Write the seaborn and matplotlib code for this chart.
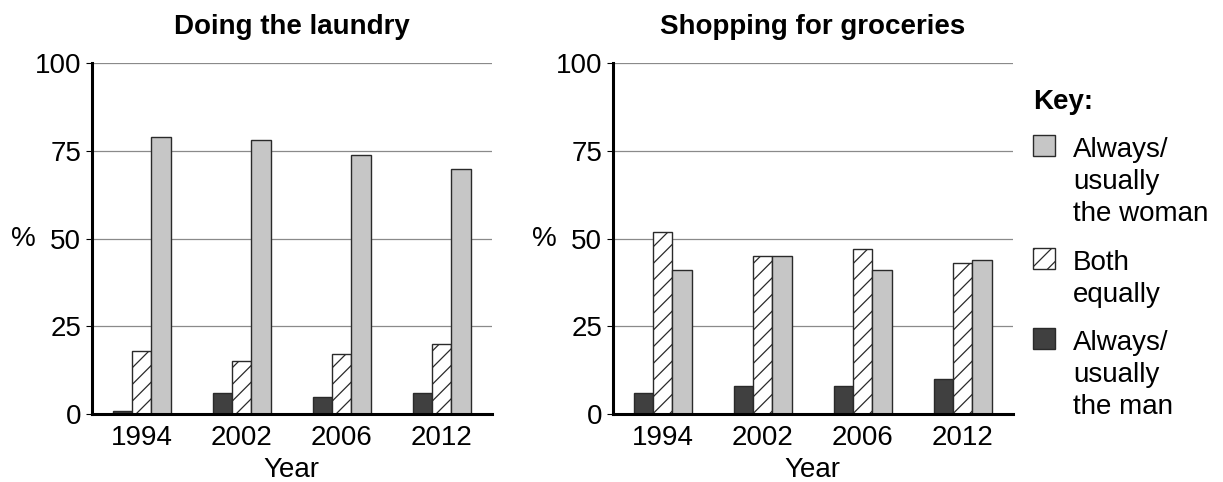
import matplotlib
matplotlib.use("Agg")
import matplotlib.pyplot as plt
import seaborn as sns
import pandas as pd
from matplotlib.patches import Rectangle

# ---- data ----
years = ["1994", "2002", "2006", "2012"]
series = ["Always/usually the man", "Both equally", "Always/usually the woman"]
laundry_man = [1, 6, 5, 6]
laundry_both = [18, 15, 17, 20]
laundry_woman = [79, 78, 74, 70]
shopping_man = [6, 8, 8, 10]
shopping_both = [52, 45, 47, 43]
shopping_woman = [41, 45, 41, 44]
titles = ["Doing the laundry", "Shopping for groceries"]
yticks = [0, 25, 50, 75, 100]
legend_title = "Key:"
legend_labels = ["Always/\nusually\nthe woman", "Both\nequally", "Always/\nusually\nthe man"]

sns.set_style("white")
plt.rcParams['font.family'] = ['Liberation Sans', 'DejaVu Sans']
plt.rcParams['text.color'] = 'black'
plt.rcParams['axes.labelcolor'] = 'black'
plt.rcParams['hatch.linewidth'] = 0.9
plt.rcParams['hatch.color'] = '#2a2a2a'

colors = {series[0]: "#404040", series[1]: "#ffffff", series[2]: "#c6c6c6"}
edge = "#2a2a2a"
FS = 20


def make_df(man, both, woman):
    rows = []
    for y, m, b, w in zip(years, man, both, woman):
        rows += [(y, series[0], m), (y, series[1], b), (y, series[2], w)]
    return pd.DataFrame(rows, columns=["Year", "Who", "Pct"])


fig = plt.figure(figsize=(12.23, 4.82), dpi=100)
ax1 = fig.add_axes([0.075, 0.141, 0.3271, 0.7276])
ax2 = fig.add_axes([0.501, 0.141, 0.3271, 0.7276])

datasets = [make_df(laundry_man, laundry_both, laundry_woman),
            make_df(shopping_man, shopping_both, shopping_woman)]

for ax, df, title in zip([ax1, ax2], datasets, titles):
    sns.barplot(data=df, x="Year", y="Pct", hue="Who", hue_order=series,
                order=years, palette=colors, width=0.58, saturation=1,
                edgecolor=edge, linewidth=1.0, legend=False, ax=ax, zorder=3)
    for bar in ax.containers[1]:
        bar.set_hatch('//')
    ax.set_xlim(-0.5, len(years) - 0.5)
    ax.set_ylim(0, 100)
    ax.set_yticks(yticks)
    ax.set_axisbelow(True)
    ax.yaxis.grid(True, color="#8a8a8a", linewidth=0.9)
    ax.xaxis.grid(False)
    for s in ["top", "right"]:
        ax.spines[s].set_visible(False)
    for s in ["left", "bottom"]:
        ax.spines[s].set_linewidth(2.2)
        ax.spines[s].set_color("black")
        ax.spines[s].set_zorder(5)
    ax.set_xticks(range(len(years)))
    ax.set_xticklabels(years)
    ax.set_xticks([i - 0.5 for i in range(len(years) + 1)], minor=True)
    ax.tick_params(axis='x', which='major', length=0, pad=8, labelsize=FS, colors='black')
    ax.tick_params(axis='x', which='minor', length=5, width=0.8, direction='out', color='#333333')
    ax.tick_params(axis='y', which='major', length=4.5, width=0.8, pad=3, labelsize=FS,
                   direction='out', left=True, colors='black')
    ax.set_xlabel("Year", fontsize=FS, labelpad=4)
    ax.set_ylabel("%", fontsize=FS, rotation=0, ha='center', va='center')
    ax.yaxis.set_label_coords(-0.172, 0.5)
    ax.set_title(title, fontsize=FS, fontweight='bold', pad=21)

# ---- key ----
W, H = 1223.0, 482.0
fig.text(1033 / W, 1 - 109 / H, legend_title, fontsize=FS, fontweight='bold', va='baseline', ha='left')
patch_styles = [(colors[series[2]], None), (colors[series[1]], '//'), (colors[series[0]], None)]
patch_tops = [135, 248, 328]
for (fc, hatch), top, lab in zip(patch_styles, patch_tops, legend_labels):
    r = Rectangle((1033 / W, 1 - (top + 21) / H), 22 / W, 21 / H, transform=fig.transFigure,
                  facecolor=fc, edgecolor=edge, linewidth=1.0, hatch=hatch)
    fig.patches.append(r)
    for i, line in enumerate(lab.split("\n")):
        fig.text(1073 / W, 1 - (top + 22 + 32 * i) / H, line, fontsize=FS, va='baseline', ha='left')

fig.savefig("out.png", dpi=100)
